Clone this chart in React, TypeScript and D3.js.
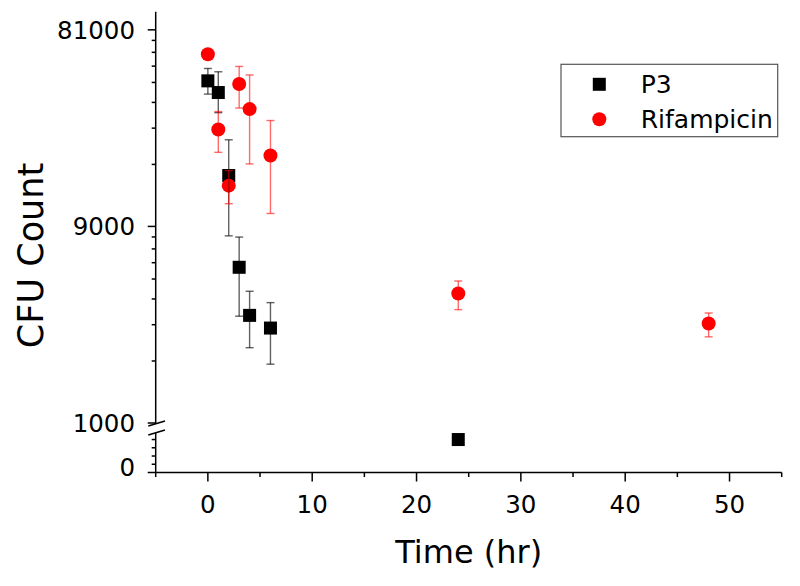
import React from "react";
import * as d3 from "d3";

// ---- data ----
const timesP3 = [0, 1, 2, 3, 4, 6, 24];
const p3Mean = [45800, 40200, 15900, 5700, 3330, 2890, 800];
const p3Low = [39500, 32100, 8100, 3300, 2320, 1930, 800];
const p3High = [52600, 50700, 23700, 7990, 4360, 3840, 800];

const timesRif = [0, 1, 2, 3, 4, 6, 24, 48];
const rifMean = [61700, 26600, 14200, 44200, 33400, 19900, 4250, 3040];
const rifLow = [61700, 20600, 11600, 33800, 18100, 10400, 3550, 2620];
const rifHigh = [61700, 32500, 16800, 53800, 48900, 29400, 4890, 3420];

const xTicksMajor = [0, 10, 20, 30, 40, 50];
const xTicksMinor = [-5, 5, 15, 25, 35, 45, 55];
const yUpperMajor = [1000, 9000, 81000];
const yUpperMinor = [2000, 3000, 4000, 5000, 6000, 7000, 8000, 18000, 27000, 36000, 45000, 54000, 63000, 72000];
const yLowerMajor = [0];
const yLowerMinor = [200, 400, 600, 800];
const seriesNames = ["P3", "Rifampicin"];

const FONT = "'DejaVu Sans', sans-serif";

export default function App() {
  const left = 155.7, right = 781.7;
  const xAxisY = 472.5;
  const x = d3.scaleLinear().domain([-5, 55]).range([left, right]);
  const yUp = d3.scaleLog().domain([1000, 100000]).range([423, 11]);
  const yLo = d3.scaleLinear().domain([0, 1000]).range([xAxisY, 431.3]);
  const y = (v: number) => (v >= 1000 ? yUp(v) : yLo(v));

  const breakTopY = 423.8, breakBotY = 432.8;
  const capW = 4;

  const p3 = timesP3.map((t, i) => ({ t, m: p3Mean[i], lo: p3Low[i], hi: p3High[i] }));
  const rif = timesRif.map((t, i) => ({ t, m: rifMean[i], lo: rifLow[i], hi: rifHigh[i] }));

  const errBars = (data: any[], color: string) =>
    data
      .filter((d) => d.hi !== d.lo)
      .map((d, i) => {
        const cx = x(d.t);
        return (
          <g key={i} stroke={color} strokeWidth={1.4}>
            <line x1={cx} x2={cx} y1={y(d.hi)} y2={y(d.lo)} />
            <line x1={cx - capW} x2={cx + capW} y1={y(d.hi)} y2={y(d.hi)} />
            <line x1={cx - capW} x2={cx + capW} y1={y(d.lo)} y2={y(d.lo)} />
          </g>
        );
      });

  const sq = 13, r = 7;

  return (
    <svg width={800} height={586} style={{ position: "absolute", left: 0, top: 0, background: "#fff" }} fontFamily={FONT}>
      <rect width={800} height={586} fill="#fff" />
      {/* y axis lines */}
      <g stroke="#000" strokeWidth={1.5}>
        <line x1={left} x2={left} y1={11.7} y2={breakTopY} />
        <line x1={left} x2={left} y1={breakBotY} y2={xAxisY} />
        <line x1={left - 0.75} x2={right} y1={xAxisY} y2={xAxisY} />
        {/* break marks */}
        <line x1={148.3} y1={426} x2={165} y2={421} />
        <line x1={148.3} y1={435} x2={165} y2={430} />
        {yUpperMajor.map((v) => (
          <line key={"um" + v} x1={left - 8} x2={left} y1={yUp(v)} y2={yUp(v)} />
        ))}
        {yUpperMinor.map((v) => (
          <line key={"un" + v} x1={left - 4} x2={left} y1={yUp(v)} y2={yUp(v)} />
        ))}
        {yLowerMajor.map((v) => (
          <line key={"lm" + v} x1={left - 8} x2={left} y1={yLo(v)} y2={yLo(v)} />
        ))}
        {yLowerMinor.map((v) => (
          <line key={"ln" + v} x1={left - 4} x2={left} y1={yLo(v)} y2={yLo(v)} />
        ))}
        {xTicksMajor.map((v) => (
          <line key={"xm" + v} x1={x(v)} x2={x(v)} y1={xAxisY} y2={xAxisY + 9} />
        ))}
        {xTicksMinor.map((v) => (
          <line key={"xn" + v} x1={x(v)} x2={x(v)} y1={xAxisY} y2={xAxisY + 4.5} />
        ))}
      </g>
      {/* y tick labels */}
      <g fontSize={24.5} textAnchor="end" fill="#000">
        {yUpperMajor.map((v) => (
          <text key={"yl" + v} x={135} y={yUp(v) + 8.8}>
            {String(v)}
          </text>
        ))}
        {yLowerMajor.map((v) => (
          <text key={"yll" + v} x={135} y={yLo(v) + 3.5}>
            {String(v)}
          </text>
        ))}
      </g>
      {/* x tick labels */}
      <g fontSize={24.5} textAnchor="middle" fill="#000">
        {xTicksMajor.map((v) => (
          <text key={"xl" + v} x={x(v)} y={512.7}>
            {String(v)}
          </text>
        ))}
      </g>
      {/* axis titles */}
      <text x={(left + right) / 2} y={563.3} fontSize={32} textAnchor="middle">
        Time (hr)
      </text>
      <text transform={`translate(42.7,255.5) rotate(-90)`} fontSize={35} textAnchor="middle">
        CFU Count
      </text>
      {/* markers */}
      <g fill="#000">
        {p3.map((d, i) => (
          <rect key={i} x={x(d.t) - sq / 2} y={y(d.m) - sq / 2} width={sq} height={sq} />
        ))}
      </g>
      <g fill="#ff0000">
        {rif.map((d, i) => (
          <circle key={i} cx={x(d.t)} cy={y(d.m)} r={r} />
        ))}
      </g>
      {/* error bars */}
      {errBars(p3, "rgba(0,0,0,0.62)")}
      {errBars(rif, "rgba(255,0,0,0.58)")}
      {/* legend */}
      <rect x={561} y={64.3} width={216.7} height={72.4} fill="none" stroke="#555" strokeWidth={1.2} />
      <rect x={599.3 - sq / 2} y={84.3 - sq / 2} width={sq} height={sq} fill="#000" />
      <circle cx={599.3} cy={119.3} r={r} fill="#ff0000" />
      <text x={640.7} y={92.8} fontSize={25} fill="#000">
        {seriesNames[0]}
      </text>
      <text x={640.7} y={128} fontSize={25} fill="#000">
        {seriesNames[1]}
      </text>
    </svg>
  );
}
